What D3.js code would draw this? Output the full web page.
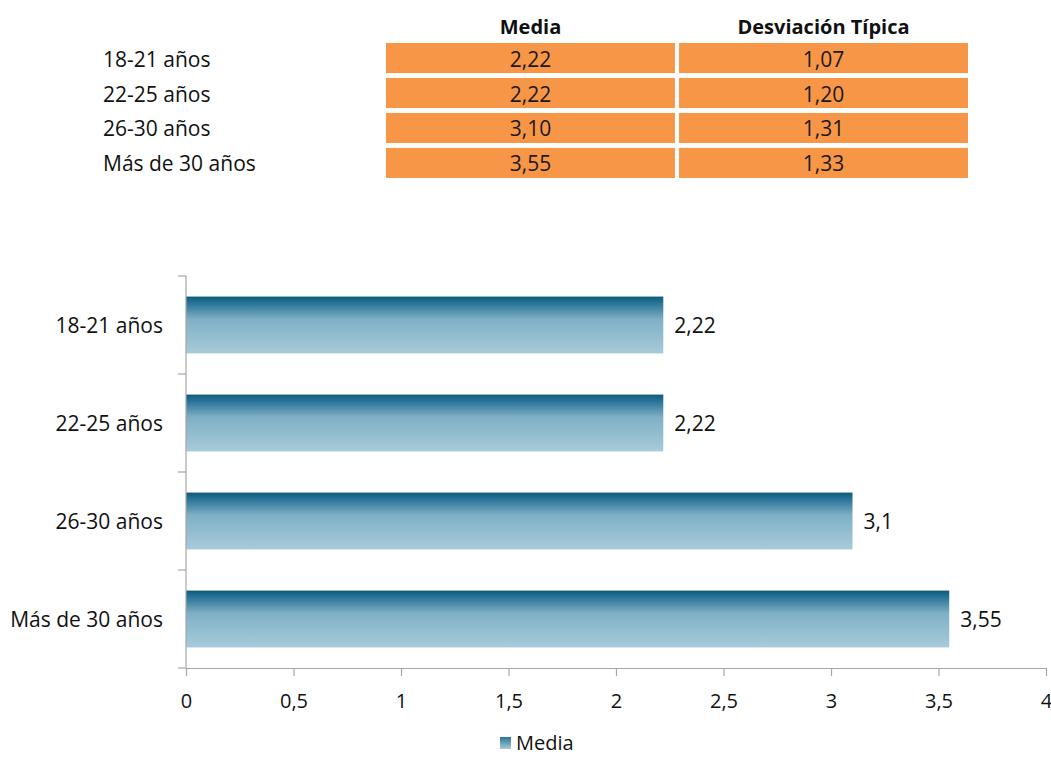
<!DOCTYPE html>
<html>
<head>
<meta charset="utf-8">
<script src="https://cdn.jsdelivr.net/npm/d3@7"></script>
<style>
  body { margin: 0; background: #fff; }
  svg { display: block; font-family: "Open Sans", Lato, sans-serif; }
</style>
</head>
<body>
<svg id="chart" width="1051" height="758"></svg>
<script>
// Age groups and their statistics
const categories = ["18-21 años", "22-25 años", "26-30 años", "Más de 30 años"];
const media = [2.22, 2.22, 3.10, 3.55];
const desviacion = [1.07, 1.20, 1.31, 1.33];
const tableHeaders = ["Media", "Desviación Típica"];
const xTicks = [0, 0.5, 1, 1.5, 2, 2.5, 3, 3.5, 4];

const svg = d3.select("#chart");
const comma = v => String(v).replace(".", ",");
const fixed2 = v => v.toFixed(2).replace(".", ",");
const FS = 21;

// ---- Summary table ----
const colX = d3.scaleBand().domain(tableHeaders).range([386, 968]).paddingInner(0.014);
const rowY = d3.scaleBand().domain(categories).range([43, 178]).paddingInner(0.14);
const tableCols = [media, desviacion];

const table = svg.append("g");
table.selectAll("text.head").data(tableHeaders).join("text")
  .attr("class", "head")
  .attr("x", d => colX(d) + colX.bandwidth() / 2)
  .attr("y", 34)
  .attr("text-anchor", "middle")
  .attr("font-size", 20).attr("font-weight", "bold").attr("fill", "#111")
  .text(d => d);

table.selectAll("text.row").data(categories).join("text")
  .attr("class", "row")
  .attr("x", 103)
  .attr("y", d => rowY(d) + rowY.bandwidth() / 2 + 8.5)
  .attr("font-size", FS).attr("fill", "#111")
  .text(d => d);

tableHeaders.forEach((h, ci) => {
  const g = table.append("g");
  g.selectAll("rect").data(categories).join("rect")
    .attr("x", colX(h)).attr("width", colX.bandwidth())
    .attr("y", d => rowY(d)).attr("height", rowY.bandwidth())
    .attr("fill", "#f79646");
  g.selectAll("text").data(categories).join("text")
    .attr("x", colX(h) + colX.bandwidth() / 2)
    .attr("y", (d) => rowY(d) + rowY.bandwidth() / 2 + 8.5)
    .attr("text-anchor", "middle")
    .attr("font-size", FS).attr("fill", "#1a1a1a")
    .text((d, i) => fixed2(tableCols[ci][i]));
});

// ---- Bar chart ----
const x = d3.scaleLinear().domain([0, 4]).range([186, 1046]);
const y = d3.scaleBand().domain(categories).range([276, 668]).paddingInner(0.42).paddingOuter(0.21);

const defs = svg.append("defs");
const grad = defs.append("linearGradient").attr("id", "barGrad")
  .attr("x1", 0).attr("y1", 0).attr("x2", 0).attr("y2", 1);
grad.append("stop").attr("offset", "0%").attr("stop-color", "#0d5a7d");
grad.append("stop").attr("offset", "12%").attr("stop-color", "#2a7497");
grad.append("stop").attr("offset", "40%").attr("stop-color", "#7fb0c6");
grad.append("stop").attr("offset", "100%").attr("stop-color", "#a8cbd9");

const legGrad = defs.append("linearGradient").attr("id", "legGrad")
  .attr("x1", 0).attr("y1", 0).attr("x2", 0).attr("y2", 1);
legGrad.append("stop").attr("offset", "0%").attr("stop-color", "#2a7497");
legGrad.append("stop").attr("offset", "100%").attr("stop-color", "#a8cbd9");

svg.append("g").selectAll("rect").data(categories).join("rect")
  .attr("x", x(0))
  .attr("y", d => y(d))
  .attr("width", (d, i) => x(media[i]) - x(0))
  .attr("height", y.bandwidth())
  .attr("fill", "url(#barGrad)");

// value labels
svg.append("g").selectAll("text").data(categories).join("text")
  .attr("x", (d, i) => x(media[i]) + 11)
  .attr("y", d => y(d) + y.bandwidth() / 2 + 8)
  .attr("font-size", FS).attr("fill", "#111")
  .text((d, i) => comma(media[i]));

// y axis: vertical line with ticks at band boundaries
const axisColor = "#a6a6a6";
const yAxis = svg.append("g");
yAxis.append("line").attr("x1", 186).attr("x2", 186).attr("y1", 276).attr("y2", 668)
  .attr("stroke", axisColor).attr("stroke-width", 1.2);
const bounds = categories.map(d => y(d) - y.step() * y.paddingInner() / 2).concat([668]);
yAxis.selectAll("line.t").data(bounds).join("line").attr("class", "t")
  .attr("x1", 178).attr("x2", 186).attr("y1", d => d).attr("y2", d => d)
  .attr("stroke", axisColor).attr("stroke-width", 1.2);
yAxis.selectAll("text").data(categories).join("text")
  .attr("x", 163)
  .attr("y", d => y(d) + y.bandwidth() / 2 + 8)
  .attr("text-anchor", "end")
  .attr("font-size", FS).attr("fill", "#111")
  .text(d => d);

// x axis
const xAxis = svg.append("g").attr("transform", "translate(0,668)")
  .call(d3.axisBottom(x).tickValues(xTicks).tickFormat(comma).tickSize(8).tickSizeOuter(0));
xAxis.select(".domain").attr("stroke", axisColor).attr("stroke-width", 1.2);
xAxis.selectAll(".tick line").attr("stroke", axisColor).attr("stroke-width", 1.2);
xAxis.selectAll(".tick text").attr("font-size", 20).attr("fill", "#111")
  .attr("font-family", "'Open Sans', Lato, sans-serif").attr("dy", 0).attr("y", 40);

// legend
const legend = svg.append("g").attr("transform", "translate(500,737)");
legend.append("rect").attr("width", 11).attr("height", 12).attr("fill", "url(#legGrad)");
legend.append("text").attr("x", 16).attr("y", 13).attr("font-size", 20).attr("fill", "#111").text("Media");
</script>
</body>
</html>
